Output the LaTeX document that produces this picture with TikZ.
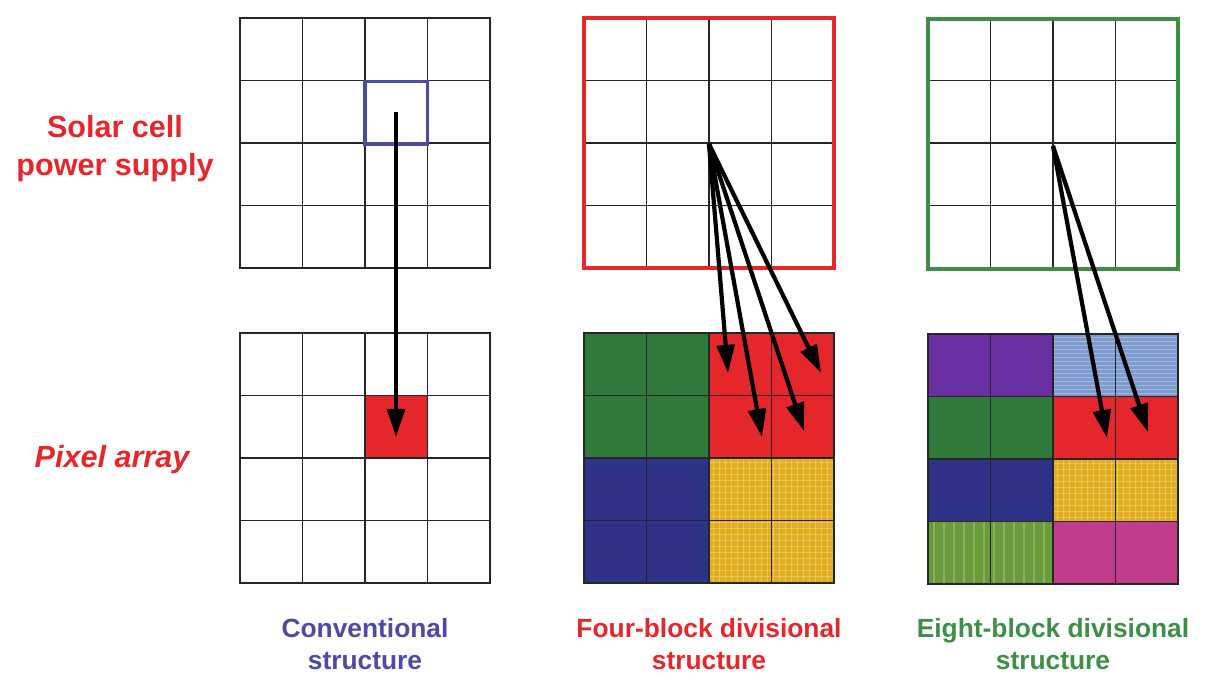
\documentclass[tikz,border=0pt]{standalone}
\usepackage{fontspec}
\setmainfont{Liberation Sans}
\usetikzlibrary{arrows.meta}
\definecolor{solarred}{HTML}{E5262B}
\definecolor{convblue}{HTML}{4B4BA6}
\definecolor{eightgreen}{HTML}{3F8E47}
\definecolor{blockgreen}{HTML}{2F7A3A}
\definecolor{blocknavy}{HTML}{2E3388}
\definecolor{blockgold}{HTML}{E2AE1E}
\definecolor{blockpurple}{HTML}{6A2FA0}
\definecolor{blocksky}{HTML}{7E9BD0}
\definecolor{blocklime}{HTML}{6A9B3A}
\definecolor{blockpink}{HTML}{C23C8C}
\tikzset{
  cell/.style={draw=black!85, line width=0.9pt},
  gridframe/.style={
    minimum width=5cm, minimum height=5cm,
    inner sep=0pt, line width=0.9pt
  },
  ray/.style={-{Triangle[length=16pt,width=10pt]}, line width=2.4pt, draw=black},
  rowlabel/.style={
    font=\fontsize{17.4}{21.6}\selectfont\bfseries,
    text=solarred, align=center
  },
  caption/.style={
    font=\fontsize{15}{18.2}\selectfont\bfseries,
    align=center
  }
}

\begin{document}
\begin{tikzpicture}[x=0.02cm, y=-0.02cm]
    \useasboundingbox (0,0) rectangle (1207,674);

    % coloured blocks of the pixel arrays
    \fill[solarred] (365,395.5) rectangle (427.5,458);
    \fill[blockgreen] (584,333) rectangle (709,458);
    \fill[solarred] (709,333) rectangle (834,458);
    \fill[blocknavy] (584,458) rectangle (709,583);
    \fill[blockgold] (709,458) rectangle (834,583);
    \fill[blockpurple] (928,334) rectangle (1053,396.5);
    \fill[blocksky] (1053,334) rectangle (1178,396.5);
    \fill[blockgreen] (928,396.5) rectangle (1053,459);
    \fill[solarred] (1053,396.5) rectangle (1178,459);
    \fill[blocknavy] (928,459) rectangle (1053,521.5);
    \fill[blockgold] (1053,459) rectangle (1178,521.5);
    \fill[blocklime] (928,521.5) rectangle (1053,584);
    \fill[blockpink] (1053,521.5) rectangle (1178,584);

    % textures
    \foreach \t in {4,10,...,124} {
      \draw[white, opacity=0.25, line width=0.4pt] (709+\t,458) -- ++(0,125);
      \draw[white, opacity=0.25, line width=0.4pt] (709,458+\t) -- ++(125,0);
    }
    \foreach \t in {4,10,...,124} \draw[white, opacity=0.25, line width=0.4pt] (1053+\t,459) -- ++(0,62.5);
    \foreach \t in {4,10,...,58} \draw[white, opacity=0.25, line width=0.4pt] (1053,459+\t) -- ++(125,0);
    \foreach \t in {3,7,...,60} \draw[white, opacity=0.3, line width=0.4pt] (1053,334+\t) -- ++(125,0);
    \foreach \t in {6,16,...,124} \draw[white, opacity=0.2, line width=0.8pt] (928+\t,521.5) -- ++(0,62.5);

    % grid lines
    \foreach \gx/\gy in {240/18, 240/333, 584/18, 584/333, 928/18, 928/334} {
      \foreach \k in {1,2,3} {
        \draw[cell] (\gx+\k*62.5,\gy) -- ++(0,250);
        \draw[cell] (\gx,\gy+\k*62.5) -- ++(250,0);
      }
    }

    % frames
    \node[gridframe, draw=black!85] (convtop) at (365,143) {};
    \node[gridframe, draw=black!85] (convarr) at (365,458) {};
    \node[gridframe, draw=solarred, line width=2.2pt] (fourtop) at (709,143) {};
    \node[gridframe, draw=black!85] (fourarr) at (709,458) {};
    \node[gridframe, draw=eightgreen, line width=2.2pt] (eighttop) at (1053,144) {};
    \node[gridframe, draw=black!85] (eightarr) at (1053,459) {};

    \node[draw=convblue, line width=1.8pt, minimum size=1.25cm, inner sep=0pt] (convcell) at (396.25,112.75) {};

    % arrow end points
    \coordinate (convsrc) at (396,112);
    \coordinate (convdst) at (396,437);
    \coordinate (foursrc) at (709,144);
    \coordinate (fourdA) at (728,373);
    \coordinate (fourdB) at (762,437);
    \coordinate (fourdC) at (804,431);
    \coordinate (fourdD) at (821,373);
    \coordinate (eightsrc) at (1053,146);
    \coordinate (eightdA) at (1107,438);
    \coordinate (eightdB) at (1148,432);

    \draw[ray] (convsrc) -- (convdst);
    \draw[ray] (foursrc) -- (fourdA);
    \draw[ray] (foursrc) -- (fourdB);
    \draw[ray] (foursrc) -- (fourdC);
    \draw[ray] (foursrc) -- (fourdD);
    \draw[ray] (eightsrc) -- (eightdA);
    \draw[ray] (eightsrc) -- (eightdB);

    % labels
    \node[rowlabel] (solar) at (115,149) {Solar cell\\power supply};
    \node[rowlabel, font=\fontsize{17.4}{21.6}\selectfont\bfseries\itshape] (pixel) at (112,460) {Pixel array};
    \node[caption, text=convblue] (convcap) at (365,644) {Conventional\\structure};
    \node[caption, text=solarred] (fourcap) at (709,644) {Four-block divisional\\structure};
    \node[caption, text=eightgreen] (eightcap) at (1053,644) {Eight-block divisional\\structure};
  \end{tikzpicture}
\end{document}
